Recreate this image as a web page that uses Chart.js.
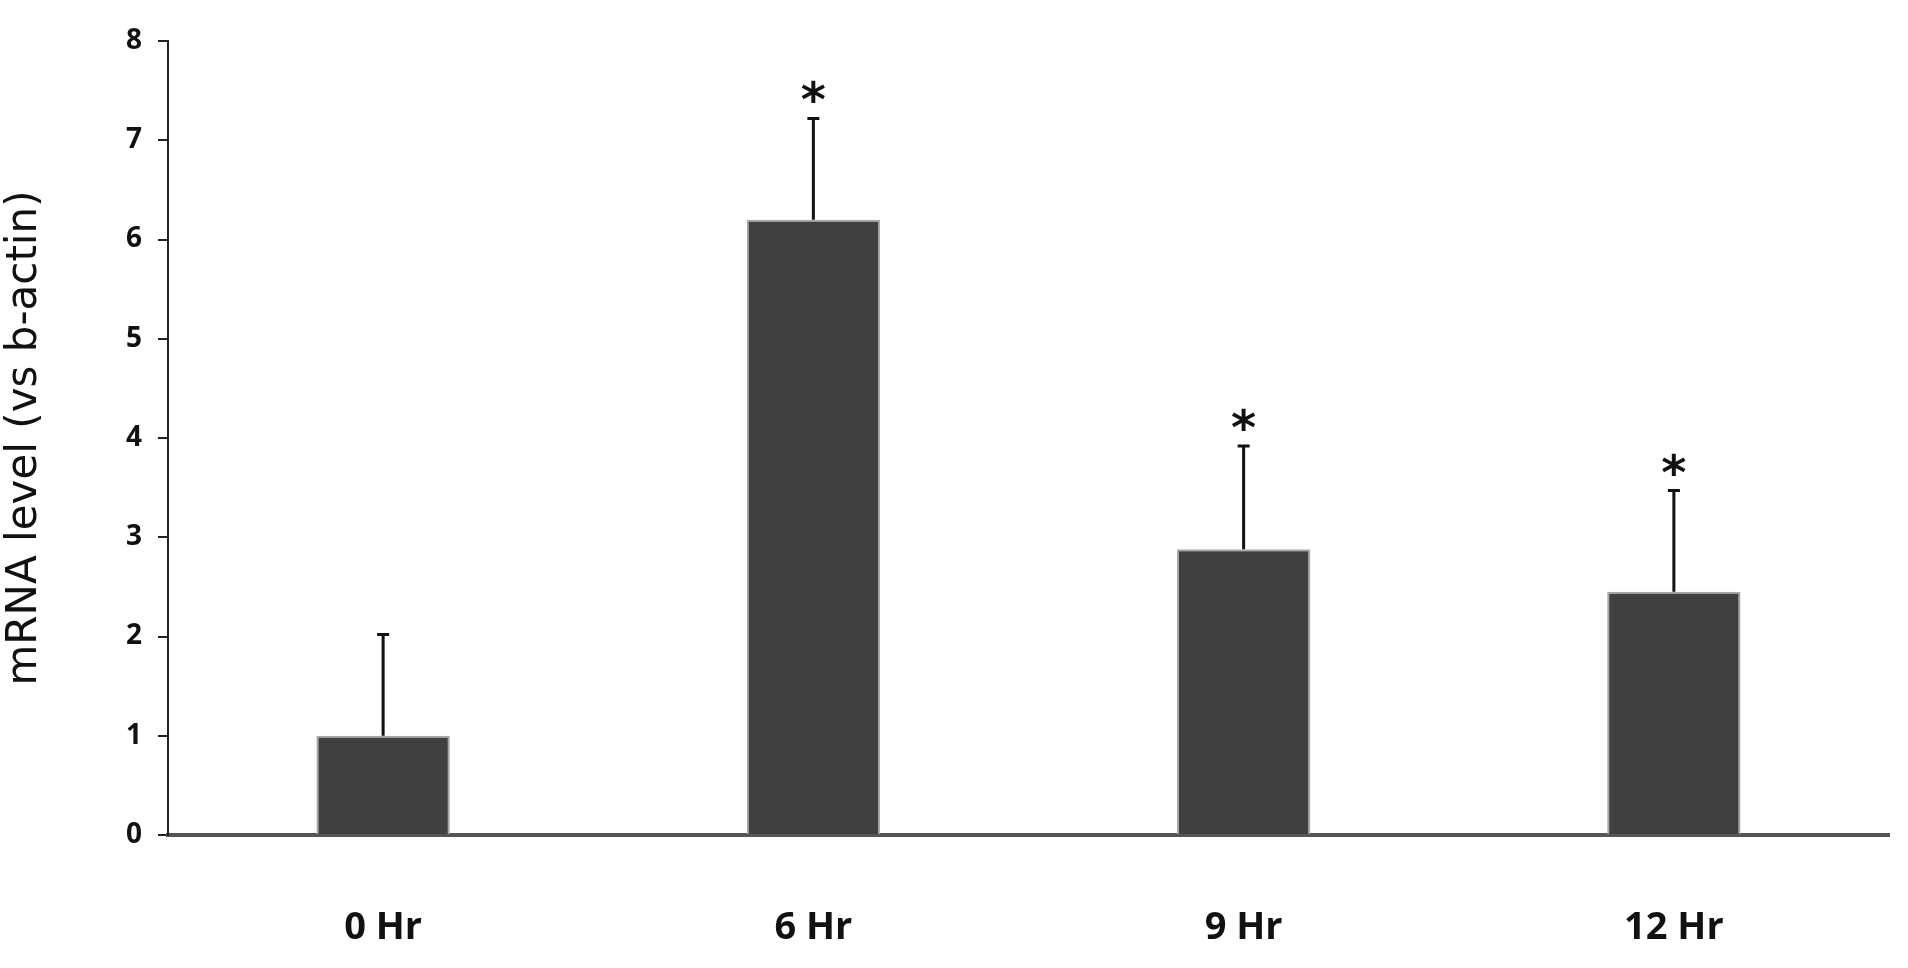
<!DOCTYPE html>
<html>
<head>
<meta charset="utf-8">
<script src="https://cdn.jsdelivr.net/npm/chart.js@4"></script>
<style>
  html, body { margin: 0; padding: 0; background: #fff; }
  #wrap { width: 1908px; height: 968px; }
</style>
</head>
<body>
<div id="wrap"><canvas id="c" width="1908" height="968"></canvas></div>
<script>
const categories = ['0 Hr', '6 Hr', '9 Hr', '12 Hr'];
const means = [1.0, 6.2, 2.88, 2.45];
const errUpper = [2.02, 7.22, 3.92, 3.47];
const significant = [false, true, true, true];

// error bars + asterisks drawn through the y scale
const errorBars = {
    id: 'errorBars',
    afterDatasetsDraw(chart) {
        const ctx = chart.ctx;
        const meta = chart.getDatasetMeta(0);
        const y = chart.scales.y;
        ctx.save();
        ctx.strokeStyle = '#111';
        ctx.lineWidth = 3;
        meta.data.forEach((bar, i) => {
            const top = y.getPixelForValue(errUpper[i]);
            const base = y.getPixelForValue(means[i]);
            ctx.beginPath();
            ctx.moveTo(bar.x, base);
            ctx.lineTo(bar.x, top);
            ctx.moveTo(bar.x - 6, top);
            ctx.lineTo(bar.x + 6, top);
            ctx.stroke();
            if (significant[i]) {
                ctx.fillStyle = '#111';
                ctx.font = 'bold 48px "DejaVu Sans"';
                ctx.textAlign = 'center';
                ctx.textBaseline = 'alphabetic';
                ctx.fillText('*', bar.x, top - 2);
            }
        });
        ctx.restore();
    }
};

new Chart(document.getElementById('c'), {
    type: 'bar',
    data: {
        labels: categories,
        datasets: [{
            data: means,
            backgroundColor: '#404040',
            borderColor: '#a8a8a8',
            borderWidth: 2,
            categoryPercentage: 1,
            barPercentage: 0.31
        }]
    },
    options: {
        responsive: false,
        animation: false,
        layout: { padding: { top: 41, right: 19 } },
        plugins: { legend: { display: false }, tooltip: { enabled: false } },
        scales: {
            x: {
                grid: { display: false },
                border: { color: '#555', width: 4 },
                ticks: { color: '#111', padding: 62, font: { family: '"Open Sans"', size: 38, weight: 'bold' } },
                afterFit: (s) => { s.height = 133; }
            },
            y: {
                min: 0,
                max: 8,
                ticks: { stepSize: 1, color: '#111', padding: 16, font: { family: '"Open Sans"', size: 28, weight: 'bold' } },
                grid: { drawOnChartArea: false, tickLength: 10, color: '#222', lineWidth: 2 },
                border: { color: '#222', width: 2 },
                title: {
                    display: true,
                    text: 'mRNA level (vs b-actin)',
                    color: '#111',
                    font: { family: '"DejaVu Sans"', size: 42 },
                    padding: 0
                },
                afterFit: (s) => { s.width = 168; }
            }
        }
    },
    plugins: [errorBars]
});
</script>
</body>
</html>
